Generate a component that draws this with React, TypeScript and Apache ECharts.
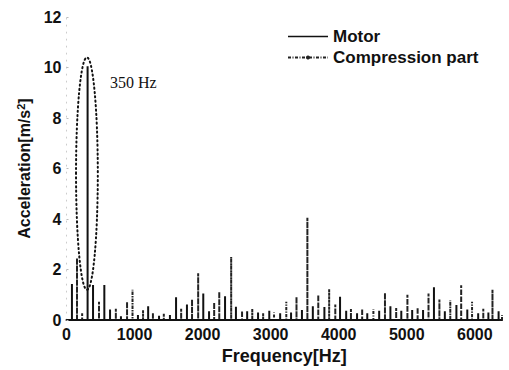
import React, { useEffect, useRef } from "react";
import * as echarts from "echarts";

// Motor spectrum (solid spikes)
const motorFreq = [80, 310, 390, 556, 640, 800, 1050, 1200, 1360, 1520, 1610, 1770, 2010, 2095, 2330, 2490, 2655, 2815, 2980, 3140, 3300, 3460, 3620, 3790, 4020, 4110, 4270, 4420, 4595, 4760, 4920, 5080, 5240, 5400, 5560, 5730, 5890, 6050, 6200, 6350];
const motorAmp = [1.43, 10.05, 1.39, 1.39, 0.42, 0.15, 0.2, 0.55, 0.17, 0.2, 0.9, 0.62, 1.05, 0.35, 0.94, 0.53, 0.35, 0.3, 0.37, 0.27, 0.3, 0.4, 0.55, 0.52, 0.92, 0.37, 0.27, 0.27, 0.37, 0.55, 0.37, 0.4, 0.4, 1.3, 0.35, 0.6, 0.42, 0.27, 0.3, 0.35];

// Compression part spectrum (dash-dot spikes)
const compFreq = [154, 230, 478, 725, 890, 970, 1125, 1270, 1430, 1685, 1845, 1935, 2170, 2245, 2420, 2580, 2730, 2890, 3050, 3230, 3380, 3540, 3700, 3860, 3950, 4180, 4345, 4510, 4680, 4845, 5010, 5160, 5320, 5480, 5640, 5800, 5960, 6125, 6260, 6400];
const compAmp = [2.45, 0.27, 0.73, 0.45, 0.73, 1.2, 0.4, 0.3, 0.25, 0.45, 0.82, 1.85, 0.7, 1.12, 2.5, 0.37, 0.45, 0.27, 0.3, 0.73, 0.92, 4.05, 1.0, 1.23, 0.62, 0.44, 0.45, 0.44, 1.08, 0.48, 1.0, 0.5, 1.05, 0.82, 0.78, 1.38, 0.73, 0.45, 1.2, 0.2];

// Annotation: ellipse around the main peak (data units) and its label
const annotFreq = 300;
const annotHalfWidth = 160;
const annotTop = 10.4;
const annotBottom = 1.2;
const annotLabel = "350 Hz";
const annotLabelFreq = 640;
const annotLabelValue = 9.4;

const FONT = "'Liberation Sans', Arial, sans-serif";

function spikes(freq: number[], amp: number[]) {
  const out: number[][] = [];
  freq.forEach((f, i) => {
    out.push([f, 0], [f, amp[i]], [f, 0]);
  });
  return out;
}

export default function App() {
  const ref = useRef<HTMLDivElement>(null);
  useEffect(() => {
    if (!ref.current) return;
    const chart = echarts.init(ref.current, null, { renderer: "svg" });
    chart.setOption({
      animation: false,
      backgroundColor: "#ffffff",
      grid: { left: 66.5, right: 7, top: 17, bottom: 43 },
      legend: {
        orient: "vertical",
        left: 282,
        top: 23,
        itemWidth: 40,
        itemHeight: 5,
        itemGap: 4,
        textStyle: { fontFamily: FONT, fontWeight: "bold", fontSize: 17, color: "#111", lineHeight: 17 },
        data: [
          { name: "Motor", icon: "path://M0,0h40v1.6h-40z" },
          { name: "Compression part" },
        ],
      },
      xAxis: {
        type: "value",
        min: 0,
        max: 6400,
        interval: 1000,
        name: "Frequency[Hz]",
        nameLocation: "middle",
        nameGap: 21,
        nameTextStyle: { fontFamily: FONT, fontWeight: "bold", fontSize: 18, color: "#111" },
        axisLine: { show: true, onZero: false, lineStyle: { color: "#111", width: 2 } },
        axisTick: { show: false },
        splitLine: { show: false },
        axisLabel: {
          showMaxLabel: false,
          margin: 6,
          formatter: (v: number) => String(v),
          fontFamily: FONT,
          fontWeight: "bold",
          fontSize: 16,
          color: "#111",
        },
      },
      yAxis: {
        type: "value",
        min: 0,
        max: 12,
        interval: 2,
        name: "{a|Acceleration[m/s}{s|2}{a|]}",
        nameLocation: "middle",
        nameGap: 33,
        nameRotate: 90,
        nameTextStyle: {
          rich: {
            a: { fontFamily: FONT, fontWeight: "bold", fontSize: 16, color: "#111", lineHeight: 18 },
            s: { fontFamily: FONT, fontWeight: "bold", fontSize: 11, color: "#111", verticalAlign: "top", lineHeight: 18 },
          },
        },
        axisLine: { show: true, lineStyle: { color: "#ccc", width: 1, type: [1, 6] } },
        axisTick: { show: true, length: 2, inside: true, lineStyle: { color: "#bbb" } },
        splitLine: { show: false },
        axisLabel: { margin: 5, fontFamily: FONT, fontWeight: "bold", fontSize: 16, color: "#111" },
      },
      series: [
        {
          name: "Motor",
          type: "line",
          symbol: "none",
          data: spikes(motorFreq, motorAmp),
          lineStyle: { color: "#111", width: 2 },
          itemStyle: { color: "#111" },
          z: 3,
        },
        {
          name: "Compression part",
          type: "line",
          symbol: "circle",
          symbolSize: 5,
          showSymbol: false,
          data: spikes(compFreq, compAmp),
          lineStyle: { color: "#222", width: 2, type: [3, 1.5, 1, 1.5] },
          itemStyle: { color: "#222" },
          z: 2,
        },
      ],
    });

    const c = chart.convertToPixel({ gridIndex: 0 }, [annotFreq, (annotTop + annotBottom) / 2]) as number[];
    const t = chart.convertToPixel({ gridIndex: 0 }, [annotFreq + annotHalfWidth, annotTop]) as number[];
    const lbl = chart.convertToPixel({ gridIndex: 0 }, [annotLabelFreq, annotLabelValue]) as number[];
    chart.setOption({
      graphic: [
        {
          type: "ellipse",
          shape: { cx: c[0], cy: c[1], rx: t[0] - c[0], ry: c[1] - t[1] },
          style: { fill: "none", stroke: "#111", lineWidth: 2, lineDash: [1.2, 3.2], lineCap: "round" },
          z: 10,
        },
        {
          type: "text",
          x: lbl[0],
          y: lbl[1],
          style: {
            text: annotLabel,
            fontFamily: "'Liberation Serif', 'Times New Roman', serif",
            fontSize: 16,
            fill: "#111",
            textAlign: "left",
            textVerticalAlign: "middle",
          },
          z: 10,
        },
      ],
    });

    return () => chart.dispose();
  }, []);
  return (
    <div
      ref={ref}
      style={{ position: "fixed", left: 0, top: 0, width: 509, height: 370 }}
    />
  );
}
